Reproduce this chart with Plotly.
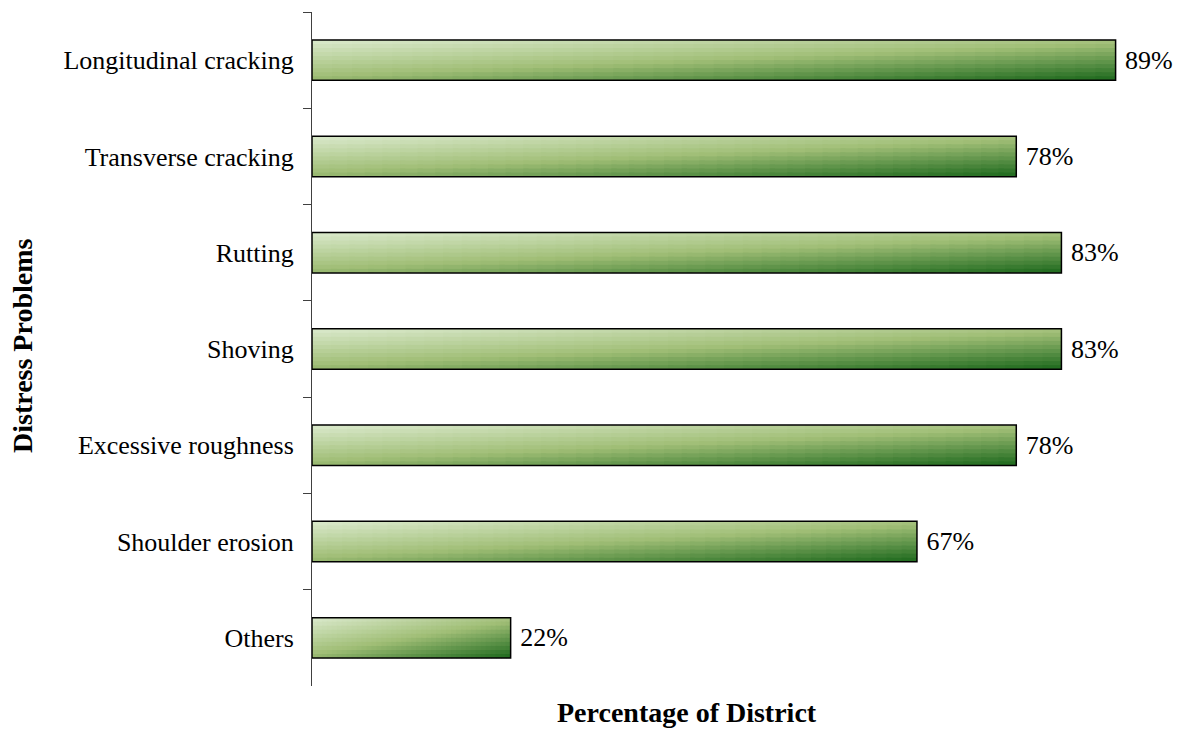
import plotly.graph_objects as go

categories = ["Longitudinal cracking", "Transverse cracking", "Rutting", "Shoving",
              "Excessive roughness", "Shoulder erosion", "Others"]
values = [89, 78, 83, 83, 78, 67, 22]
value_labels = ["89%", "78%", "83%", "83%", "78%", "67%", "22%"]

FONT = "Liberation Serif, Times New Roman, serif"
BAR_W = 0.42
NX, NY = 40, 10
stops = [(0.0, (219, 234, 205)), (0.5, (160, 190, 118)), (1.0, (28, 104, 28))]

W, H = 1177, 729
L, T = 312, 12
PW, PH = 865, 674


def colour(t):
    for (t0, c0), (t1, c1) in zip(stops[:-1], stops[1:]):
        if t <= t1:
            f = (t - t0) / (t1 - t0)
            return "rgb(%d,%d,%d)" % tuple(round(a + (b - a) * f) for a, b in zip(c0, c1))
    return "rgb(%d,%d,%d)" % stops[-1][1]


fig = go.Figure()
for j in range(NY):
    w = (j + 0.5) / NY
    slice_w = BAR_W / NY * (1.0 if j == NY - 1 else 1.3)
    for i in range(NX):
        u = (i + 0.5) / NX
        t = (0.9 * u + 1.1 * w) / 2.0
        bases = [v * i / NX for v in values]
        seg = [min(v / NX * 1.3, v - b) for v, b in zip(values, bases)]
        fig.add_trace(go.Bar(
            y=categories,
            x=seg,
            base=bases,
            orientation="h",
            width=slice_w,
            offset=-BAR_W / 2 + j * BAR_W / NY,
            marker=dict(color=colour(t), line=dict(width=0)),
            hoverinfo="skip",
            showlegend=False,
        ))

fig.add_trace(go.Bar(
    y=categories,
    x=values,
    orientation="h",
    width=BAR_W,
    marker=dict(color="rgba(0,0,0,0)", line=dict(color="black", width=1.5)),
    text=value_labels,
    texttemplate="&nbsp;%{text}",
    textposition="outside",
    textfont=dict(family=FONT, size=26, color="black"),
    cliponaxis=False,
    hoverinfo="skip",
    showlegend=False,
))

fig.update_layout(
    width=W, height=H,
    margin=dict(l=L, r=W - L - PW, t=T, b=H - T - PH, autoexpand=False),
    barmode="overlay",
    plot_bgcolor="white", paper_bgcolor="white",
    font=dict(family=FONT, size=26, color="black"),
    xaxis=dict(range=[0, 95.8], showgrid=False, zeroline=False, showticklabels=False,
               showline=False, ticks=""),
    yaxis=dict(categoryorder="array", categoryarray=categories, autorange="reversed",
               showgrid=False, zeroline=False, showline=True, linecolor="#404040",
               linewidth=1, ticks="outside", tickson="boundaries", ticklen=8,
               tickcolor="#404040", ticklabelstandoff=12,
               tickfont=dict(family=FONT, size=26, color="black")),
    annotations=[
        dict(text="<b>Percentage of District</b>", xref="paper", yref="paper",
             x=(687 - L) / PW, y=-(712 - (T + PH)) / PH, xanchor="center", yanchor="middle",
             showarrow=False, font=dict(family=FONT, size=28, color="black")),
        dict(text="<b>Distress Problems</b>", xref="paper", yref="paper",
             x=-(L - 22) / PW, y=1 - (346 - T) / PH, xanchor="center", yanchor="middle",
             textangle=-90, showarrow=False, font=dict(family=FONT, size=28, color="black")),
    ],
)

fig.write_html("out.html",
               config={"displayModeBar": False},
               post_script="document.body.style.margin='0';document.body.style.overflow='hidden';")
